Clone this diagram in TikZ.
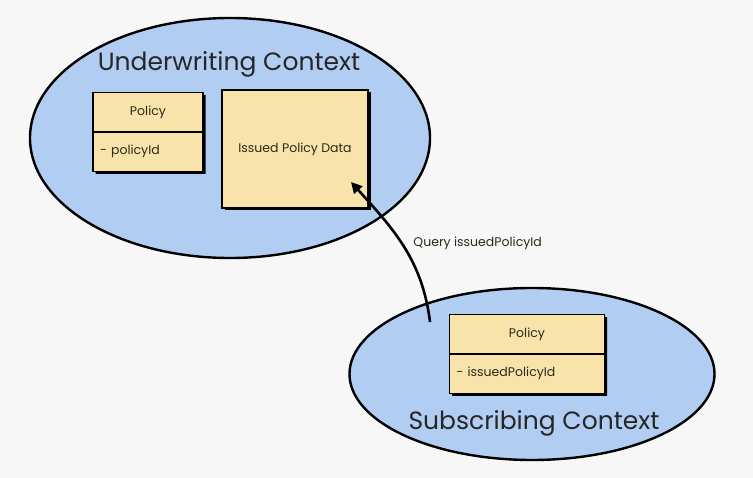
\documentclass[tikz,border=0pt]{standalone}
\usepackage{fontspec}
\setmainfont{Poppins}
\usetikzlibrary{positioning,shapes.geometric,shapes.multipart,shadows,arrows.meta}
\definecolor{ctxblue}{RGB}{178,205,242}
\definecolor{boxtan}{RGB}{248,228,170}
\definecolor{paper}{RGB}{247,247,247}
\definecolor{inktext}{RGB}{45,40,25}

\begin{document}
\begin{tikzpicture}[
            x=1pt,y=-1pt,thick,
            ctxnode/.style={ellipse, draw=black, fill=ctxblue, line width=2.4pt, inner sep=0pt},
            ctxtitle/.style={font=\fontsize{25}{28}\selectfont, text=black!85},
            classnode/.style={rectangle split, rectangle split parts=2, draw=black, fill=boxtan, line width=1.6pt,
                              text=inktext, font=\fontsize{12.5}{14}\selectfont, inner xsep=7pt,
                              general shadow={fill=black, shadow xshift=2.5pt, shadow yshift=-2.5pt}},
            datanode/.style={rectangle, draw=black, fill=boxtan, line width=1.6pt, text=inktext,
                             font=\fontsize{12.5}{14}\selectfont, inner sep=0pt,
                             general shadow={fill=black, shadow xshift=2.5pt, shadow yshift=-2.5pt}},
            ]
            \fill[paper] (0,0) rectangle (753,478);
            % Nodes
            \node[ctxnode, minimum width=400pt, minimum height=240pt] (underwriting) at (230,138) {};
            \node[ctxtitle] (uwtitle) at (229,64) {Underwriting Context};
            \node[classnode, text width=96pt, inner ysep=12.5pt] (policy) at (148,132)
                {\centering Policy\par \nodepart{two} - policyId};
            \node[datanode, minimum width=146pt, minimum height=118pt] (issued) at (295,149) {Issued Policy Data};

            \node[ctxnode, minimum width=365pt, minimum height=172pt] (subscribing) at (532,374) {};
            \node[ctxtitle] (subtitle) at (534,423) {Subscribing Context};
            \node[classnode, text width=141pt, inner ysep=12.5pt] (subpolicy) at (527,354)
                {\centering Policy\par \nodepart{two} - issuedPolicyId};

            \coordinate (qfrom) at (430,322);
            \coordinate (qto) at (351,182);

            % Lines
            \draw[line width=2.6pt, -{Triangle[width=11pt,length=11pt]}] (qfrom) to[out=97, in=-48]
                node [pos=0.52, right=7pt, text=inktext, font=\fontsize{12.5}{14}\selectfont] {Query issuedPolicyId} (qto);
        \end{tikzpicture}
\end{document}
